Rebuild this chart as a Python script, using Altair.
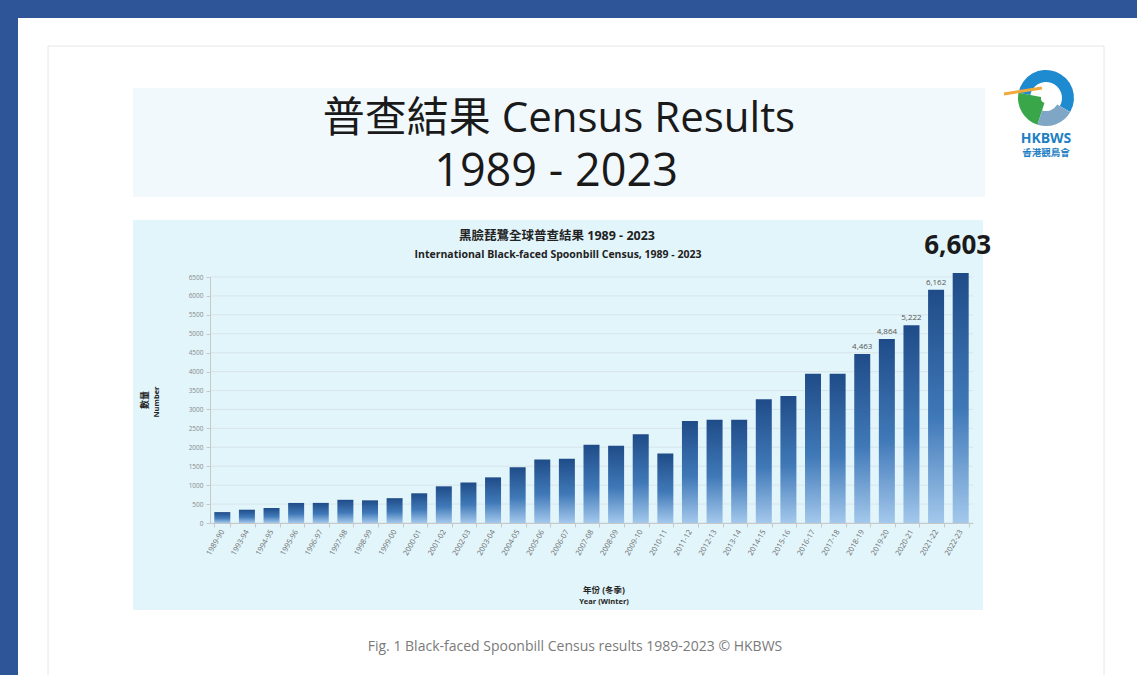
import altair as alt
import pandas as pd

seasons = ["1989-90", "1993-94", "1994-95", "1995-96", "1996-97", "1997-98", "1998-99",
           "1999-00", "2000-01", "2001-02", "2002-03", "2003-04", "2004-05", "2005-06",
           "2006-07", "2007-08", "2008-09", "2009-10", "2010-11", "2011-12", "2012-13",
           "2013-14", "2014-15", "2015-16", "2016-17", "2017-18", "2018-19", "2019-20",
           "2020-21", "2021-22", "2022-23"]
counts = [288, 351, 394, 530, 531, 613, 599, 656, 785, 969, 1069, 1206, 1475, 1679,
          1695, 2065, 2041, 2347, 1839, 2693, 2725, 2726, 3272, 3356, 3941, 3941, 4463,
          4864, 5222, 6162, 6603]
bar_labels = [""] * 26 + ["4,463", "4,864", "5,222", "6,162", ""]
big_label = [""] * 30 + ["6,603"]
y_ticks = list(range(0, 7000, 500))

df = pd.DataFrame({"season": seasons, "count": counts, "lab": bar_labels, "big": big_label})
grid_df = pd.DataFrame({"count": y_ticks})
dummy = pd.DataFrame({"k": [0]})

L, T = 210, 277
W, H = 763, 246
LATIN = "Open Sans, Noto Sans CJK TC, sans-serif"


def rect(x1, y1, x2, y2, fill, stroke=None, sw=0):
    kw = dict(fill=fill)
    if stroke:
        kw.update(stroke=stroke, strokeWidth=sw)
    return alt.Chart(dummy).mark_rect(**kw).encode(
        x=alt.value(x1 - L), x2=alt.value(x2 - L), y=alt.value(y1 - T), y2=alt.value(y2 - T))


def txt(x, y, s, size, color, weight="normal", font=LATIN, angle=0):
    return alt.Chart(dummy).mark_text(
        text=s, fontSize=size, color=color, fontWeight=weight, font=font, angle=angle,
        align="center", baseline="middle").encode(x=alt.value(x - L), y=alt.value(y - T))


def arc(cx, cy, th1, th2, r1, r2, color):
    return alt.Chart(dummy).mark_arc(
        theta=th1, theta2=th2, radius=r1, radius2=r2, color=color).encode(
        x=alt.value(cx - L), y=alt.value(cy - T))


xaxis = alt.Axis(labelAngle=-60, labelAlign="right", labelBaseline="middle",
                 labelFontSize=7.5, labelColor="#6b6b6b", labelFont=LATIN,
                 labelPadding=3, tickBand="extent", tickColor="#c8c8c8",
                 domainColor="#c8c8c8", tickSize=4, zindex=1, title=None)
yaxis = alt.Axis(values=y_ticks, format="d", grid=False, labelFontSize=6.5,
                 labelColor="#8a8a8a", labelFont=LATIN, tickColor="#c8c8c8",
                 domainColor="#c8c8c8", tickSize=4, labelPadding=3, zindex=1, title=None)
xscale = alt.Scale(paddingInner=0.35, paddingOuter=0.175)
yscale = alt.Scale(domain=[0, 6500], nice=False)

xs = alt.X("season:N", sort=seasons, title=None, scale=xscale, axis=xaxis)
ys = alt.Y("count:Q", title=None, scale=yscale, axis=yaxis)

grad = alt.Gradient(gradient="linear",
                    stops=[alt.GradientStop(color="#1f4c88", offset=0),
                           alt.GradientStop(color="#4079b8", offset=0.55),
                           alt.GradientStop(color="#a3c8ec", offset=1)],
                    x1=0, x2=0, y1=0, y2=1)

grid = alt.Chart(grid_df).mark_rule(color="#d3dde3", strokeWidth=0.7).encode(
    y=ys, x=alt.value(0), x2=alt.value(W))

bars = alt.Chart(df).mark_bar(color=grad).encode(x=xs, y=ys)

labels = alt.Chart(df).transform_filter(alt.datum.lab != "").mark_text(
    dy=-7, fontSize=8, color="#555555", font=LATIN).encode(x=xs, y=ys, text="lab:N")

big = alt.Chart(df).transform_filter(alt.datum.big != "").mark_text(
    dy=-27, dx=-3, fontSize=26, fontWeight="bold", color="#1a1a1a", font=LATIN).encode(
    x=xs, y=ys, text="big:N")

layers = [
    rect(0, 0, 1137, 675, "#ffffff"),
    rect(48, 46, 1104, 700, "#ffffff", "#e6e6e6", 1),
    rect(133, 88, 985, 197, "#f1f9fd"),
    rect(133, 220, 983, 610, "#e2f5fb"),
    rect(0, 0, 1137, 18, "#2e5597"),
    rect(0, 0, 18, 675, "#2e5597"),
    grid, bars, labels, big,
    txt(559, 119, "普查結果 Census Results", 42, "#1a1a1a"),
    txt(556, 172, "1989 - 2023", 45, "#1a1a1a"),
    txt(557, 236, "黑臉琵鷺全球普查結果 1989 - 2023", 12.5, "#222222", "bold"),
    txt(558, 255, "International Black-faced Spoonbill Census, 1989 - 2023", 10.5, "#222222", "bold"),
    txt(145, 400, "數量", 9, "#222222", "bold", angle=270),
    txt(157, 402, "Number", 7.5, "#222222", "bold", angle=270),
    txt(604, 590, "年份 (冬季)", 8.5, "#222222", "bold"),
    txt(604, 602, "Year (Winter)", 7.5, "#222222", "bold"),
    txt(575, 647, "Fig. 1 Black-faced Spoonbill Census results 1989-2023 © HKBWS", 14, "#7a7a7a"),
    arc(1046, 98, 4.9, 8.38, 28, 16, "#1e8ad0"),
    arc(1046, 98, 3.45, 4.9, 28, 5, "#3aa64a"),
    arc(1046, 98, 2.1, 3.45, 28, 13, "#7fa6c4"),
    alt.Chart(dummy).mark_rule(color="#f2a93b", strokeWidth=3).encode(
        x=alt.value(1004 - L), x2=alt.value(1042 - L), y=alt.value(94 - T), y2=alt.value(88 - T)),
    txt(1046, 139, "HKBWS", 14, "#1e7fc4", "bold"),
    txt(1046, 153, "香港觀鳥會", 9.5, "#1e7fc4", "bold"),
]

chart = alt.layer(*layers).properties(
    width=W, height=H,
    autosize=alt.AutoSizeParams(type="none"),
    padding={"left": L, "top": T, "right": 1137 - L - W, "bottom": 675 - T - H},
    background="white",
).configure_view(stroke=None)

chart.save("out.html", embed_options={"renderer": "svg", "actions": False})
